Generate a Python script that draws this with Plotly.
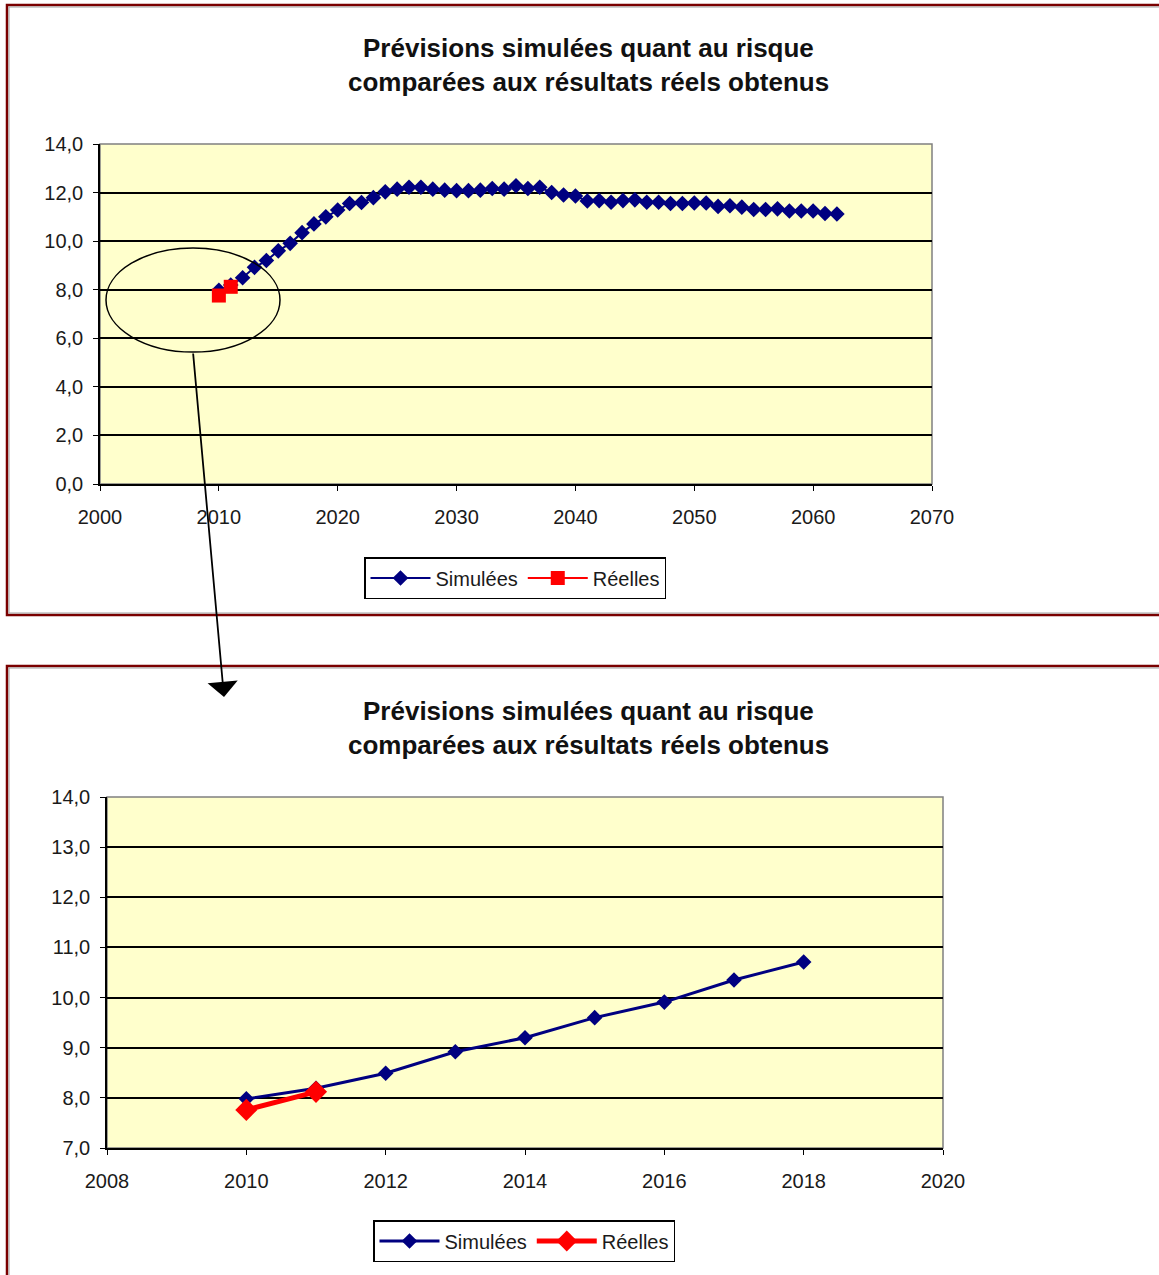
import plotly.graph_objects as go

# --- data -------------------------------------------------------------
years_sim = list(range(2010, 2063))
risk_sim = [7.98, 8.19, 8.49, 8.92, 9.20, 9.60, 9.91, 10.35, 10.71, 11.00,
            11.28, 11.55, 11.59, 11.79, 12.03, 12.14, 12.22, 12.22, 12.14, 12.10,
            12.08, 12.08, 12.10, 12.17, 12.14, 12.28, 12.17, 12.22, 12.00, 11.90,
            11.86, 11.65, 11.67, 11.60, 11.67, 11.70, 11.60, 11.60, 11.55, 11.55,
            11.57, 11.57, 11.43, 11.46, 11.40, 11.30, 11.30, 11.33, 11.24, 11.24,
            11.24, 11.14, 11.12]
years_real = [2010, 2011]
risk_real = [7.76, 8.12]
zoom_last_year = 2018

title_lines = ["Prévisions simulées quant au risque",
               "comparées aux résultats réels obtenus"]
name_sim = "Simulées"
name_real = "Réelles"

# --- page geometry (pixels) -------------------------------------------
W, H = 1159, 1275
def px(x):
    return x / W
def py(y):
    return 1 - y / H

FONT = "Liberation Sans, Arial, sans-serif"
NAVY = "#000080"
RED = "#FF0000"
PLOT_BG = "#FFFFCC"

fig = go.Figure()

# full-horizon chart
fig.add_trace(go.Scatter(x=years_sim, y=risk_sim, name=name_sim, mode="lines+markers",
                         line=dict(color=NAVY, width=2),
                         marker=dict(symbol="diamond", size=12, color=NAVY),
                         xaxis="x", yaxis="y", legend="legend"))
fig.add_trace(go.Scatter(x=years_real, y=risk_real, name=name_real, mode="lines+markers",
                         line=dict(color=RED, width=2),
                         marker=dict(symbol="square", size=14, color=RED),
                         xaxis="x", yaxis="y", legend="legend"))

# close-up chart
n_zoom = years_sim.index(zoom_last_year) + 1
fig.add_trace(go.Scatter(x=years_sim[:n_zoom], y=risk_sim[:n_zoom], name=name_sim,
                         mode="lines+markers",
                         line=dict(color=NAVY, width=3),
                         marker=dict(symbol="diamond", size=12, color=NAVY),
                         xaxis="x2", yaxis="y2", legend="legend2"))
fig.add_trace(go.Scatter(x=years_real, y=risk_real, name=name_real, mode="lines+markers",
                         line=dict(color=RED, width=5),
                         marker=dict(symbol="diamond", size=17, color=RED),
                         xaxis="x2", yaxis="y2", legend="legend2"))

tick_font = dict(family=FONT, size=20, color="#1a1a1a")
common_x = dict(showgrid=False, zeroline=False, showline=True, linecolor="black",
                linewidth=1.5, ticks="outside", ticklen=5, tickcolor="black",
                tickfont=tick_font, tickformat="d", automargin=False,
                ticklabelstandoff=9)
common_y = dict(showgrid=True, gridcolor="black", gridwidth=1.5, zeroline=False,
                showline=True, linecolor="black", linewidth=1.5, ticks="outside",
                ticklen=5, tickcolor="black", tickfont=tick_font, tickformat=".1f",
                automargin=False, ticklabelstandoff=6)

# plot areas in pixels: (left, right, top, bottom)
pa1 = (100, 932, 144, 484)
pa2 = (107, 943, 797, 1148)

legend_style = dict(orientation="h", xanchor="center", yanchor="top",
                    bordercolor="black", borderwidth=1.5, bgcolor="white",
                    font=dict(family=FONT, size=20, color="#1a1a1a"),
                    itemwidth=60, tracegroupgap=0)

fig.update_layout(
    width=W, height=H,
    margin=dict(l=0, r=0, t=0, b=0, autoexpand=False),
    paper_bgcolor="white", plot_bgcolor=PLOT_BG,
    separators=", ",
    font=dict(family=FONT, color="black"),
    xaxis=dict(domain=[px(pa1[0]), px(pa1[1])], range=[2000, 2070], dtick=10,
               anchor="y", **common_x),
    yaxis=dict(domain=[py(pa1[3]), py(pa1[2])], range=[0, 14], dtick=2,
               anchor="x", **common_y),
    xaxis2=dict(domain=[px(pa2[0]), px(pa2[1])], range=[2008, 2020], dtick=2,
                anchor="y2", **common_x),
    yaxis2=dict(domain=[py(pa2[3]), py(pa2[2])], range=[7, 14], dtick=1,
                anchor="x2", **common_y),
    legend=dict(x=px(515), y=py(557), **legend_style),
    legend2=dict(x=px(524), y=py(1220), **legend_style),
    showlegend=True,
)

shapes = []
# panel frames
for (y0, y1) in [(5, 615), (666, 1300)]:
    shapes.append(dict(type="rect", xref="paper", yref="paper",
                       x0=px(7), x1=px(1180), y0=py(y0), y1=py(y1),
                       line=dict(color="#7a0000", width=2.5)))
    shapes.append(dict(type="rect", xref="paper", yref="paper",
                       x0=px(9), x1=px(1180), y0=py(y0 + 2), y1=py(y1 - 2),
                       line=dict(color="#a0a0a0", width=1)))
# grey plot-area borders
for (l, r, t, b) in [pa1, pa2]:
    shapes.append(dict(type="rect", xref="paper", yref="paper",
                       x0=px(l), x1=px(r), y0=py(b), y1=py(t),
                       line=dict(color="#808080", width=1.5), layer="below"))
# ellipse around the observed points
shapes.append(dict(type="circle", xref="paper", yref="paper",
                   x0=px(106), x1=px(280), y0=py(352), y1=py(248),
                   line=dict(color="black", width=1.5)))
fig.update_layout(shapes=shapes)

annotations = []
for (cx, y_first) in [(588, 48), (588, 711)]:
    for i, line in enumerate(title_lines):
        annotations.append(dict(text=f"<b>{line}</b>", xref="paper", yref="paper",
                                x=px(cx), y=py(y_first + 34 * i), xanchor="center",
                                yanchor="middle", showarrow=False,
                                font=dict(family=FONT, size=26, color="#111111")))
# arrow from the ellipse to the close-up chart
annotations.append(dict(text="", xref="paper", yref="paper", x=px(224), y=py(697),
                        ax=-31, ay=-345, showarrow=True, arrowhead=1, arrowsize=2.8,
                        arrowwidth=1.8, arrowcolor="black", standoff=0))
fig.update_layout(annotations=annotations)

fig.write_html("out.html")
